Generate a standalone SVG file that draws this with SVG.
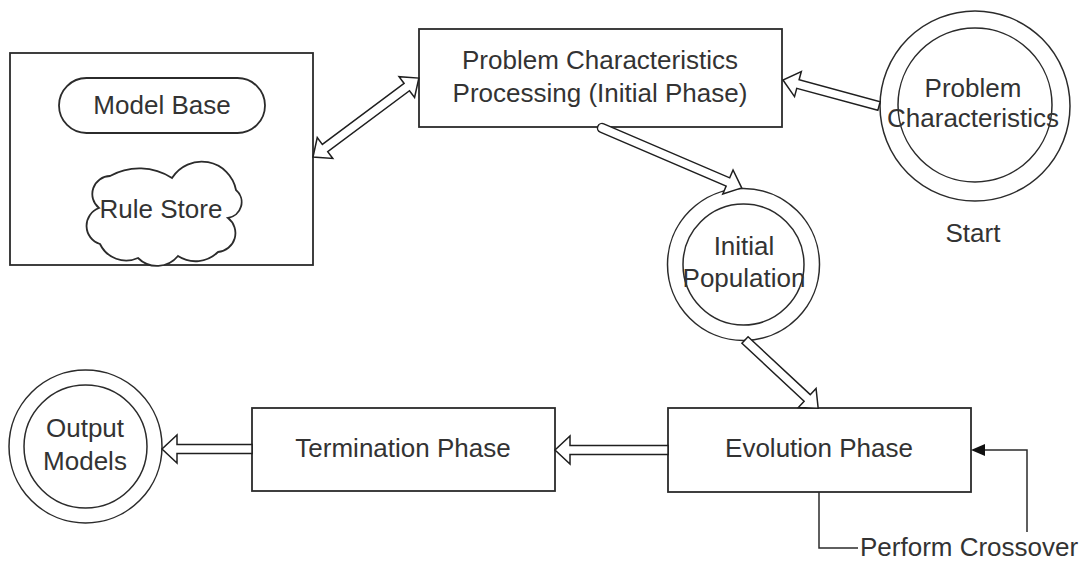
<svg xmlns="http://www.w3.org/2000/svg" width="1085" height="562" viewBox="0 0 1085 562">
<style>
.box{fill:#fff;stroke:#2b2b2b;stroke-width:1.8}
.ln{fill:none;stroke:#2b2b2b;stroke-width:1.5}
.arr{fill:#fff;stroke:#1f1f1f;stroke-width:1.5;stroke-linejoin:miter}
text{font-family:"Liberation Sans",Arial,sans-serif;font-size:26px;fill:#333;text-anchor:middle}
</style>
<rect width="1085" height="562" fill="#fff"/>
<g id="knowledge-box">
<rect class="box" x="10" y="53" width="303" height="212"/>
</g>
<g id="model-base">
<rect class="box" x="59" y="78" width="206" height="55" rx="27.5"/>
<text x="162" y="114">Model Base</text>
</g>
<g id="rule-store">
<path class="box" d="M 99 208 A 18 18 0 0 1 110 176 A 60 60 0 0 1 172 178 A 35 35 0 0 1 236 190 A 16 16 0 0 1 228 218 A 19 19 0 0 1 218 252 A 32 32 0 0 1 178 256 A 27 27 0 0 1 138 258 A 29 29 0 0 1 100 244 A 19 19 0 0 1 99 208 Z"/>
<text x="161" y="218">Rule Store</text>
</g>
<g id="problem-processing">
<rect class="box" x="419" y="29" width="363" height="98"/>
<text x="600" y="69">Problem Characteristics</text>
<text x="600" y="102">Processing (Initial Phase)</text>
</g>
<g id="problem-characteristics">
<circle class="ln" cx="975" cy="106" r="95" fill="#fff"/>
<circle class="ln" cx="975" cy="105" r="77"/>
<text x="973" y="97">Problem</text>
<text x="973" y="127">Characteristics</text>
<text x="973" y="242">Start</text>
</g>
<g id="initial-population">
<circle class="ln" cx="743.5" cy="264.5" r="76" fill="#fff"/>
<circle class="ln" cx="743.5" cy="264.5" r="60.5"/>
<text x="744" y="255">Initial</text>
<text x="744" y="287">Population</text>
</g>
<g id="evolution-phase">
<rect class="box" x="668" y="408" width="303" height="84"/>
<text x="819" y="457">Evolution Phase</text>
</g>
<g id="termination-phase">
<rect class="box" x="252" y="408" width="303" height="83"/>
<text x="403" y="457">Termination Phase</text>
</g>
<g id="output-models">
<circle class="ln" cx="85.5" cy="446.5" r="76.5" fill="#fff"/>
<circle class="ln" cx="85.5" cy="446.5" r="61.5"/>
<text x="85" y="437">Output</text>
<text x="85" y="470">Models</text>
</g>
<g id="connectors">
<g transform="translate(313,157) rotate(-36.7)">
<polygon class="arr" points="0,0 15,-13 15,-4.5 117,-4.5 117,-13 132,0 117,13 117,4.5 15,4.5 15,13"/>
</g>
<g transform="translate(879,106) rotate(-164.85)">
<polygon class="arr" points="0,-4.5 84,-4.5 84,-13 99.5,0 84,13 84,4.5 0,4.5"/>
</g>
<g transform="translate(602,128) rotate(23.2)">
<path class="arr" d="M 0,-4.5 L 137,-4.5 L 137,-13 L 152,0 L 137,13 L 137,4.5 L 0,4.5 A 4.5 4.5 0 0 1 0,-4.5 Z"/>
</g>
<g transform="translate(745,340) rotate(42.97)">
<polygon class="arr" points="0,-4.5 85,-4.5 85,-13 100,0 85,13 85,4.5 0,4.5"/>
</g>
<g transform="translate(668,450) rotate(180)">
<polygon class="arr" points="0,-4.5 98,-4.5 98,-14 113,0 98,14 98,4.5 0,4.5"/>
</g>
<g transform="translate(252,449) rotate(180)">
<polygon class="arr" points="0,-4.5 75,-4.5 75,-14 90,0 75,14 75,4.5 0,4.5"/>
</g>
<path class="ln" d="M 819 492 V 548 H 858"/>
<path class="ln" d="M 1027 532 V 450 H 984"/>
<polygon points="971,450 985,444 985,456" fill="#111"/>
<text x="860" y="556" style="text-anchor:start">Perform Crossover</text>
</g>
</svg>
